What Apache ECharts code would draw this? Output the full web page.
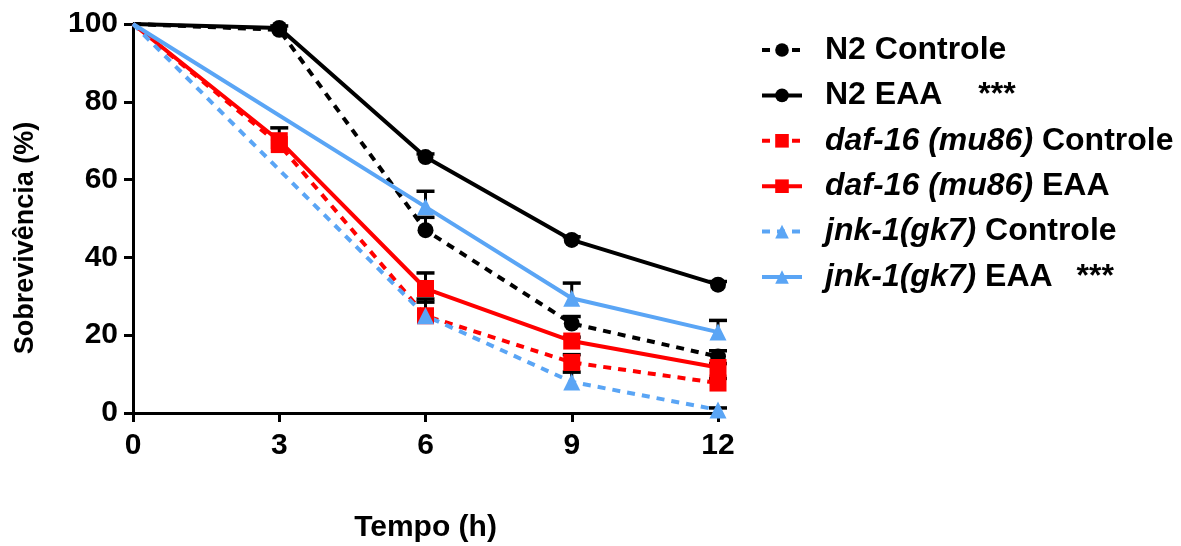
<!DOCTYPE html>
<html><head><meta charset="utf-8">
<script src="https://cdn.jsdelivr.net/npm/echarts@6/dist/echarts.min.js"></script>
<style>html,body{margin:0;padding:0;background:#fff}#c{width:1181px;height:546px}</style>
</head><body><div id="c"></div>
<script>
const hours = [0, 3, 6, 9, 12];
const xTicks = [0, 3, 6, 9, 12];
const n2Controle = [100, 98.5, 47, 23, 14.5];
const n2EAA = [100, 99, 65.8, 44.5, 33];
const dafControle = [100, 69, 25, 13, 7.7];
const dafEAA = [100, 70, 32, 18.5, 11.7];
const jnkControle = [100, null, 25, 8, 0.8];
const jnkEAA = [100, null, 53, 29.5, 20.8];
const n2ControleErr = [0, 0, 3.3, 1.8, 1.5];
const n2EAAErr = [0, 0.5, 0.8, 0.8, 0.8];
const dafControleErr = [0, 0, 4.3, 2, 1.2];
const dafEAAErr = [0, 3.3, 4, 1, 1];
const jnkControleErr = [0, 0, 3.5, 2.5, 0.5];
const jnkEAAErr = [0, 0, 4, 3.9, 3];
const names = ['N2 Controle', 'N2 EAA', 'daf-16 (mu86) Controle', 'daf-16 (mu86) EAA', 'jnk-1(gk7) Controle', 'jnk-1(gk7) EAA'];

const BLACK = '#000000', RED = '#ff0000', BLUE = '#5aa5f5';
const specs = [
  {name: names[0], data: n2Controle, err: n2ControleErr, color: BLACK, dash: true, symbol: 'circle', size: 16},
  {name: names[1], data: n2EAA, err: n2EAAErr, color: BLACK, dash: false, symbol: 'circle', size: 16},
  {name: names[2], data: dafControle, err: dafControleErr, color: RED, dash: true, symbol: 'rect', size: 17},
  {name: names[3], data: dafEAA, err: dafEAAErr, color: RED, dash: false, symbol: 'rect', size: 17},
  {name: names[4], data: jnkControle, err: jnkControleErr, color: BLUE, dash: true, symbol: 'triangle', size: 17},
  {name: names[5], data: jnkEAA, err: jnkEAAErr, color: BLUE, dash: false, symbol: 'triangle', size: 17}
];

const series = [];
specs.forEach(s => {
  series.push({
    type: 'custom', name: s.name + '_err', silent: true, z: 1,
    data: hours.map((h, i) => [h, s.data[i] == null ? 0 : s.data[i], s.data[i] == null ? 0 : s.err[i]]),
    renderItem: function (params, api) {
      const x = api.value(0), y = api.value(1), e = api.value(2);
      if (!e) return null;
      const p0 = api.coord([x, y]);
      const p1 = api.coord([x, y + e]);
      return {type: 'group', children: [
        {type: 'line', shape: {x1: p0[0], y1: p0[1], x2: p1[0], y2: p1[1]}, style: {stroke: '#000', lineWidth: 3}},
        {type: 'line', shape: {x1: p1[0] - 9, y1: p1[1], x2: p1[0] + 9, y2: p1[1]}, style: {stroke: '#000', lineWidth: 3.5}}
      ]};
    }
  });
});
specs.forEach(s => {
  series.push({
    type: 'line', name: s.name, z: 3,
    data: hours.map((h, i) => [h, s.data[i]]),
    connectNulls: true,
    symbol: s.symbol,
    symbolSize: function (v, p) { return p.dataIndex === 0 ? 0 : s.size; },
    showSymbol: true,
    itemStyle: {color: s.color},
    lineStyle: {color: s.color, width: 4, type: s.dash ? [8, 7] : 'solid'},
    animation: false
  });
});

const fam = '"Liberation Sans", Arial, sans-serif';
const chart = echarts.init(document.getElementById('c'));
chart.setOption({
  animation: false,
  grid: {left: 133, right: 463, top: 24, bottom: 133, containLabel: false, outerBoundsMode: 'none'},
  xAxis: {
    type: 'value', min: 0, max: 12, interval: 3,
    axisLine: {lineStyle: {color: '#000', width: 3}},
    axisTick: {show: true, length: 9, lineStyle: {color: '#000', width: 3}},
    axisLabel: {color: '#000', fontSize: 30, fontWeight: 'bold', fontFamily: fam, margin: 18,
      formatter: v => xTicks.indexOf(v) >= 0 ? String(v) : ''},
    splitLine: {show: false},
    name: 'Tempo (h)', nameLocation: 'middle', nameGap: 100,
    nameTextStyle: {color: '#000', fontSize: 30, fontWeight: 'bold', fontFamily: fam}
  },
  yAxis: {
    type: 'value', min: 0, max: 100, interval: 20,
    axisLine: {show: true, lineStyle: {color: '#000', width: 3}},
    axisTick: {show: true, length: 9, lineStyle: {color: '#000', width: 3}},
    axisLabel: {color: '#000', fontSize: 30, fontWeight: 'bold', fontFamily: fam, margin: 15},
    splitLine: {show: false}
  },
  graphic: [{
    type: 'text', x: 26, y: 238, rotation: Math.PI / 2,
    style: {text: 'Sobrevivência (%)', fill: '#000', font: 'bold 27px ' + fam, textAlign: 'center', textVerticalAlign: 'middle'}
  }],
  legend: {
    data: names, orient: 'vertical', left: 755, top: 29,
    itemWidth: 40, itemHeight: 17, itemGap: 13.4,
    lineStyle: {width: 4},
    formatter: function (n) {
      if (n === 'N2 Controle') return '{n|N2 Controle}';
      if (n === 'N2 EAA') return '{n|N2 EAA}{s|***}';
      if (n === 'daf-16 (mu86) Controle') return '{i|daf-16 (mu86)} {n|Controle}';
      if (n === 'daf-16 (mu86) EAA') return '{i|daf-16 (mu86)} {n|EAA}';
      if (n === 'jnk-1(gk7) Controle') return '{i|jnk-1(gk7)} {n|Controle}';
      if (n === 'jnk-1(gk7) EAA') return '{i|jnk-1(gk7)} {n|EAA}{s2|***}';
      return n;
    },
    textStyle: {
      color: '#000', fontSize: 32, lineHeight: 32, fontWeight: 'bold', fontFamily: fam, padding: [0, 0, 0, 18],
      rich: {
        n: {color: '#000', fontSize: 32, lineHeight: 32, fontWeight: 'bold', fontFamily: fam},
        i: {color: '#000', fontSize: 32, lineHeight: 32, fontWeight: 'bold', fontStyle: 'italic', fontFamily: fam},
        s: {color: '#000', fontSize: 32, lineHeight: 32, fontWeight: 'bold', fontFamily: fam, padding: [0, 0, 0, 36]},
        s2: {color: '#000', fontSize: 32, lineHeight: 32, fontWeight: 'bold', fontFamily: fam, padding: [0, 0, 0, 24]}
      }
    }
  },
  series: series
});
</script></body></html>
